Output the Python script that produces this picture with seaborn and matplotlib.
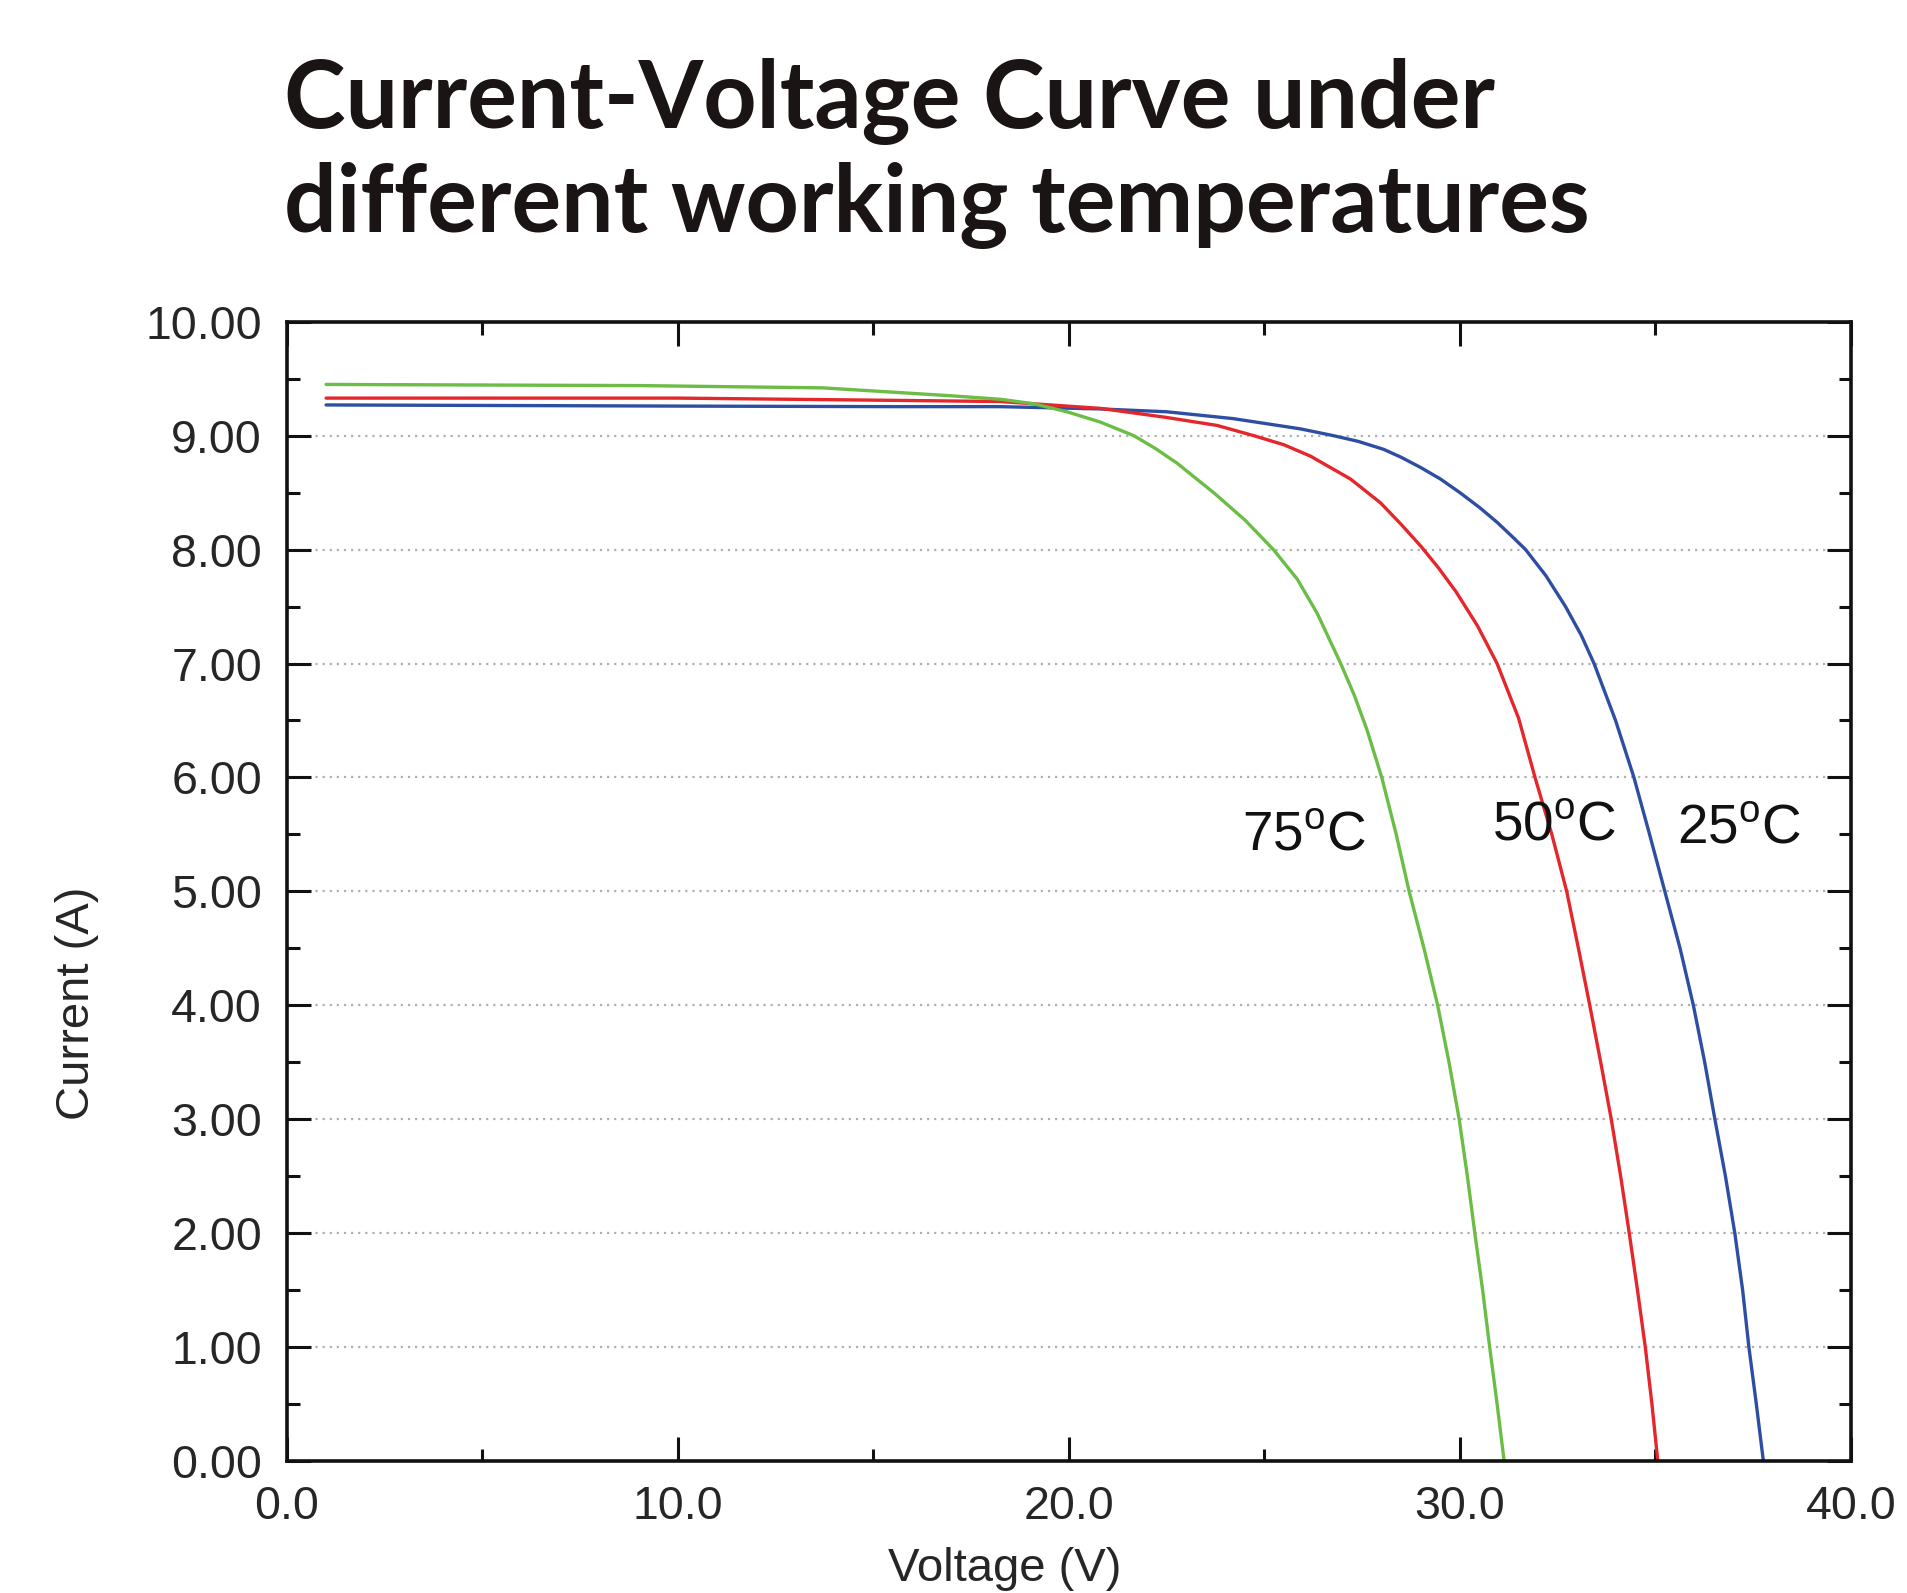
import numpy as np
import pandas as pd
import seaborn as sns
import matplotlib.pyplot as plt
from matplotlib.ticker import MultipleLocator, FormatStrFormatter

# Curvas I-V (tensão em V, corrente em A)
volt_25 = [1.0, 10.0, 15.6, 18.24, 20.8, 22.5, 24.2, 25.92, 26.77, 27.4, 28.05,
           28.5, 29.0, 29.5, 30.0, 30.5, 30.95, 31.35, 31.68, 32.2, 32.7, 33.1,
           33.43, 33.98, 34.45, 34.85, 35.24, 35.63, 35.97, 36.26, 36.52, 36.79,
           37.03, 37.23, 37.39, 37.58, 37.76]
corr_25 = [9.27, 9.26, 9.255, 9.255, 9.235, 9.21, 9.15, 9.06, 9.00, 8.95, 8.88,
           8.81, 8.72, 8.62, 8.50, 8.37, 8.24, 8.11, 8.00, 7.77, 7.50, 7.25,
           7.00, 6.50, 6.00, 5.50, 5.00, 4.50, 4.00, 3.50, 3.00, 2.50,
           2.00, 1.50, 1.00, 0.50, 0.00]

volt_50 = [1.0, 10.0, 15.6, 18.24, 20.8, 22.5, 23.79, 24.73, 25.5, 26.18, 27.2,
           27.97, 28.5, 29.0, 29.45, 29.9, 30.45, 30.95, 31.5, 31.92, 32.35,
           32.73, 33.03, 33.32, 33.6, 33.87, 34.11, 34.33, 34.54, 34.74, 34.91,
           35.06]
corr_50 = [9.33, 9.33, 9.31, 9.30, 9.24, 9.16, 9.09, 9.00, 8.92, 8.82, 8.62,
           8.41, 8.22, 8.03, 7.84, 7.63, 7.33, 7.00, 6.52, 6.00, 5.50,
           5.00, 4.50, 4.00, 3.50, 3.00, 2.50, 2.00, 1.50, 1.00, 0.50,
           0.00]

volt_75 = [1.0, 9.0, 13.7, 15.6, 17.0, 18.24, 19.1, 19.95, 20.8, 21.66, 22.2,
           22.76, 23.7, 24.5, 25.23, 25.84, 26.35, 26.95, 27.3, 27.63, 28.0,
           28.37, 28.7, 29.08, 29.43, 29.72, 29.98, 30.19, 30.38, 30.58, 30.76,
           30.95, 31.13]
corr_75 = [9.45, 9.44, 9.42, 9.38, 9.35, 9.32, 9.28, 9.21, 9.12, 9.00, 8.89,
           8.76, 8.50, 8.26, 8.00, 7.74, 7.44, 7.00, 6.72, 6.41, 6.00,
           5.50, 5.00, 4.50, 4.00, 3.50, 3.00, 2.50, 2.00, 1.50, 1.00,
           0.50, 0.00]

temperaturas = ['25', '50', '75']
cores = {'25': '#2d4ea2', '50': '#e5262b', '75': '#6bbd45'}

dados = pd.concat([
    pd.DataFrame({'tensao': volt_25, 'corrente': corr_25, 'temp': '25'}),
    pd.DataFrame({'tensao': volt_50, 'corrente': corr_50, 'temp': '50'}),
    pd.DataFrame({'tensao': volt_75, 'corrente': corr_75, 'temp': '75'}),
])

# posição dos rótulos das curvas (coordenadas dos dados)
rotulos = {'75': (26.0, 5.49), '50': (32.4, 5.58), '25': (37.13, 5.55)}

sns.set_style('ticks')
plt.rcParams['font.family'] = ['Liberation Sans', 'DejaVu Sans']
plt.rcParams['mathtext.fontset'] = 'custom'
plt.rcParams['mathtext.rm'] = 'Liberation Sans'

fig = plt.figure(figsize=(19.07, 15.93), dpi=100)
ax = fig.add_axes([0.1505, 0.0829, 0.8201, 0.7151])

sns.lineplot(data=dados, x='tensao', y='corrente', hue='temp', palette=cores,
             estimator=None, sort=False, linewidth=2.4, legend=False, ax=ax)

ax.set_xlim(0, 40)
ax.set_ylim(0, 10)
ax.xaxis.set_major_locator(MultipleLocator(10))
ax.xaxis.set_minor_locator(MultipleLocator(5))
ax.yaxis.set_major_locator(MultipleLocator(1))
ax.yaxis.set_minor_locator(MultipleLocator(0.5))
ax.xaxis.set_major_formatter(FormatStrFormatter('%.1f'))
ax.yaxis.set_major_formatter(FormatStrFormatter('%.2f'))

ax.tick_params(which='both', direction='in', top=True, right=True,
               width=2.2, color='#111111')
ax.tick_params(which='major', length=17, labelsize=33.5)
ax.tick_params(which='minor', length=9)
ax.tick_params(axis='x', which='major', pad=17)
ax.tick_params(axis='y', which='major', pad=18)
for lado in ax.spines.values():
    lado.set_linewidth(2.6)
    lado.set_color('#111111')

ax.grid(axis='y', which='major', color='#b0b0b0', linestyle=(0, (1, 2.2)),
        linewidth=1.6)
ax.set_axisbelow(True)

ax.set_xlabel('Voltage (V)', fontsize=34)
ax.set_ylabel('Current (A)', fontsize=34)
ax.yaxis.label.set_verticalalignment('center')
ax.yaxis.set_label_coords(-0.1345, 0.402)
ax.xaxis.label.set_verticalalignment('bottom')
ax.xaxis.set_label_coords(0.459, -0.1145)

for t in temperaturas:
    x, y = rotulos[t]
    ax.text(x, y, t + r'$^{\mathrm{o}}$C', fontsize=39.5, ha='center', va='center',
            color='#111111')

fig.text(0.149, 0.9196, 'Current-Voltage Curve under', fontsize=67,
         fontweight='bold', family=['Lato', 'DejaVu Sans'], color='#1a1414',
         va='baseline')
fig.text(0.149, 0.8544, 'different working temperatures', fontsize=67,
         fontweight='bold', family=['Lato', 'DejaVu Sans'], color='#1a1414',
         va='baseline')

fig.savefig('out.png', dpi=100)
